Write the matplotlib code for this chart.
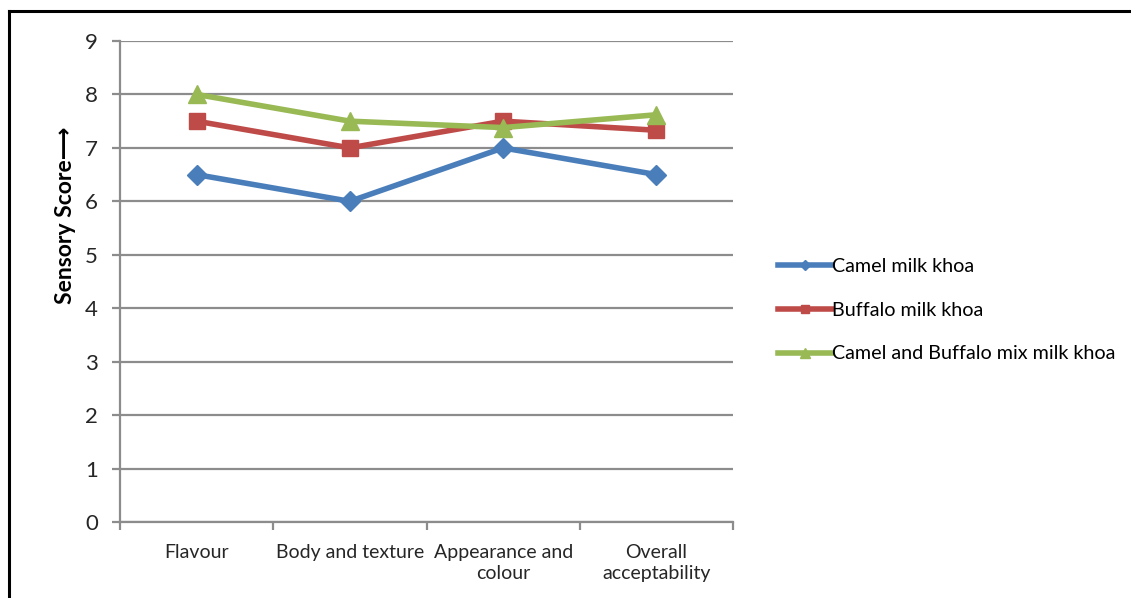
import numpy as np
import matplotlib.pyplot as plt
from matplotlib.lines import Line2D

categories = ['Flavour', 'Body and texture', 'Appearance and\ncolour', 'Overall\nacceptability']
camel = [6.5, 6.0, 7.0, 6.5]
buffalo = [7.5, 7.0, 7.5, 7.33]
mix = [8.0, 7.5, 7.38, 7.62]
series_names = ['Camel milk khoa', 'Buffalo milk khoa', 'Camel and Buffalo mix milk khoa']

plt.rcParams['font.family'] = ['Lato', 'DejaVu Sans']
grid_col = '#8c8c8c'

fig = plt.figure(figsize=(11.31, 5.98), dpi=100)
ax = fig.add_axes([120 / 1131, 1 - 522 / 598, 613 / 1131, 481 / 598])

x = np.arange(len(categories)) + 0.5
ax.plot(x, camel, color='#4A7EBB', lw=4, marker='D', ms=10, label=series_names[0])
ax.plot(x, buffalo, color='#BE4B48', lw=4, marker='s', ms=12, label=series_names[1])
ax.plot(x, mix, color='#98B954', lw=4, marker='^', ms=13, label=series_names[2])

ax.set_xlim(0, 4)
ax.set_ylim(0, 9)
ax.set_yticks(range(10))
ax.grid(axis='y', color=grid_col, lw=1.6)
ax.set_axisbelow(True)
for s in ['top', 'right']:
    ax.spines[s].set_visible(False)
for s in ['left', 'bottom']:
    ax.spines[s].set_color(grid_col)
    ax.spines[s].set_linewidth(1.6)

ax.set_xticks(range(5))
ax.set_xticklabels([])
ax.set_xticks(x, minor=True)
ax.set_xticklabels(categories, minor=True, fontsize=14, color='#262626', linespacing=1.3)
ax.tick_params(axis='x', which='minor', length=0, pad=16)
ax.tick_params(axis='x', which='major', length=6, width=1.6, color=grid_col)
ax.tick_params(axis='y', length=6, width=1.6, color=grid_col, labelsize=16, pad=10, labelcolor='#262626')

ax.set_ylabel('Sensory Score\u27f6', fontsize=16.5, fontweight='bold')
ax.yaxis.set_label_coords(-0.072, 0.638)

ax.legend(loc='center left', bbox_to_anchor=(1.045, 0.44), frameon=False,
          fontsize=14.2, handlelength=2.7, labelspacing=1.35, handletextpad=0.0,
          markerscale=0.5)

# outer frame (left and top edges)
fig.add_artist(Line2D([9 / 1131, 9 / 1131], [0, 1 - 11 / 598], color='black', lw=2.2))
fig.add_artist(Line2D([9 / 1131, 1], [1 - 11 / 598, 1 - 11 / 598], color='black', lw=2.2))

fig.savefig('out.png', dpi=100)
